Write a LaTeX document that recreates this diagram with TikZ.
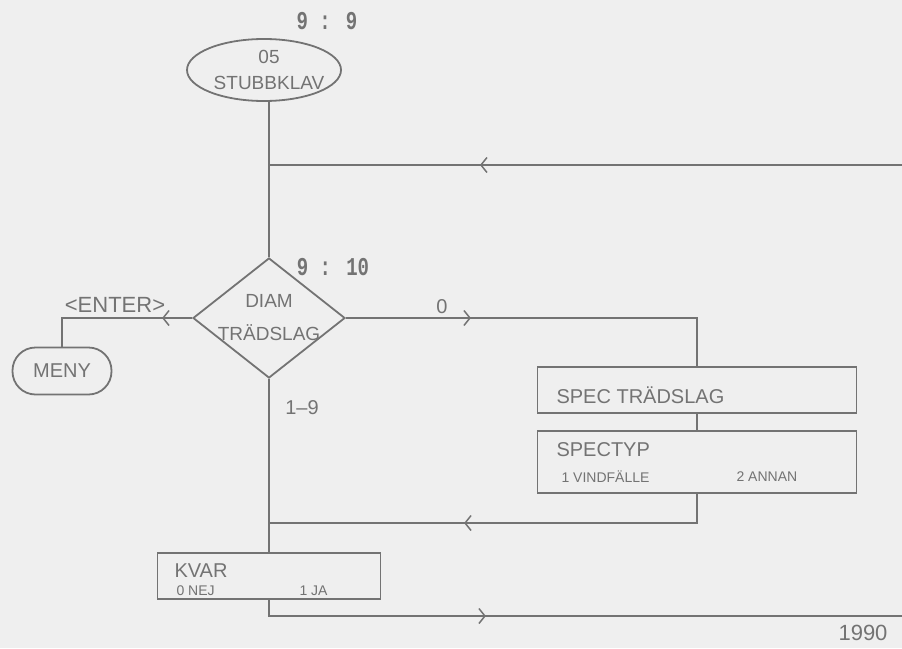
\documentclass[tikz,border=0pt]{standalone}
\usepackage{fontspec}
\setmainfont{Liberation Sans}
\newfontfamily\klockfont{Liberation Mono}
\usetikzlibrary{shapes.geometric,arrows.meta,decorations.markings}
\definecolor{papper}{HTML}{EFEFEF}
\definecolor{penna}{HTML}{737373}

\begin{document}
\begin{tikzpicture}[
    x=1pt, y=-1pt,
    every node/.style={text=penna},
    linje/.style={draw=penna,line width=1.8pt},
    pil/.style={postaction={decorate,decoration={markings,
        mark=at position #1 with {\arrow[penna]{Straight Barb[length=6pt,width=15pt,line width=1.5pt]}}}}},
    ruta/.style={rectangle,draw=penna,line width=1.8pt,inner sep=0pt},
    stor/.style={font=\fontsize{20}{27}\selectfont},
    liten/.style={font=\fontsize{14}{16}\selectfont},
    klocka/.style={font=\klockfont\bfseries\fontsize{19}{22}\selectfont}]

  % --- papperet ---
  \useasboundingbox (0,0) rectangle (902,648);
  \fill[papper] (0,0) rectangle (902,648);

  % --- start och val ---
  \node[ellipse,draw=penna,line width=1.8pt,inner sep=0pt,
        minimum width=154pt,minimum height=62pt] (stubb) at (264,70) {};
  \node[align=center,font=\fontsize{19}{26}\selectfont] (stubbtext) at (269,70) {05\\STUBBKLAV};
  \node[klocka] (klocka1) at (327,21) {\scalebox{1}[1.35]{9 : 9}};

  \node[diamond,draw=penna,line width=1.8pt,inner sep=0pt,
        minimum width=152pt,minimum height=120pt] (diam) at (269,318) {};
  \node[align=center,font=\fontsize{19}{33}\selectfont] (diamtext) at (269,318) {DIAM\\TRÄDSLAG};
  \node[klocka] (klocka2) at (333,267) {\scalebox{1}[1.35]{9 : 10}};

  \node[ruta,rounded corners=23pt,minimum width=99pt,minimum height=47pt,stor] (meny) at (62,371) {MENY};

  % --- rutorna ---
  \node[ruta,minimum width=319pt,minimum height=46pt] (spec) at (697,390) {};
  \node[ruta,minimum width=319pt,minimum height=62pt] (typ) at (697,462) {};
  \node[ruta,minimum width=223pt,minimum height=46pt] (kvar) at (269,576) {};

  \node[stor,anchor=west] (spectext) at (553,395) {SPEC TRÄDSLAG};
  \node[stor,anchor=west] (typtext) at (553,450) {SPECTYP};
  \node[liten,anchor=west] (typ1) at (558,477) {1 VINDFÄLLE};
  \node[liten,anchor=west] (typ2) at (733,477) {2 ANNAN};
  \node[stor,anchor=west] (kvartext) at (171,571) {KVAR};
  \node[liten,anchor=west] (kvar0) at (173,591) {0 NEJ};
  \node[liten,anchor=west] (kvar1) at (296,591) {1 JA};

  % --- linjer ---
  \coordinate (ret1) at (902,165);
  \coordinate (knut2) at (269,523);
  \coordinate (ret2) at (902,616);

  \draw[linje] (stubb.south -| diam.north) -- (diam.north);
  \draw[linje,pil=422pt] (ret1) -- (ret1 -| diam.north);
  \draw[linje,pil=30pt] (diam.west) -| (meny.north);
  \draw[linje,pil=125pt] (diam.east) -| (spec.north);
  \draw[linje] (spec.south) -- (typ.north);
  \draw[linje,pil=262pt] (typ.south) |- (knut2);
  \draw[linje] (diam.south) -- (kvar.north);
  \draw[linje,pil=233pt] (kvar.south) |- (ret2);

  % --- etiketter ---
  \node[font=\fontsize{22}{24}\selectfont] (enter) at (115,305) {\textless ENTER\textgreater};
  \node[stor] (noll) at (442,307) {0};
  \node[stor] (ett) at (302,408) {1--9};
  \node[font=\fontsize{22}{24}\selectfont] (ar) at (863,633) {1990};

\end{tikzpicture}
\end{document}
